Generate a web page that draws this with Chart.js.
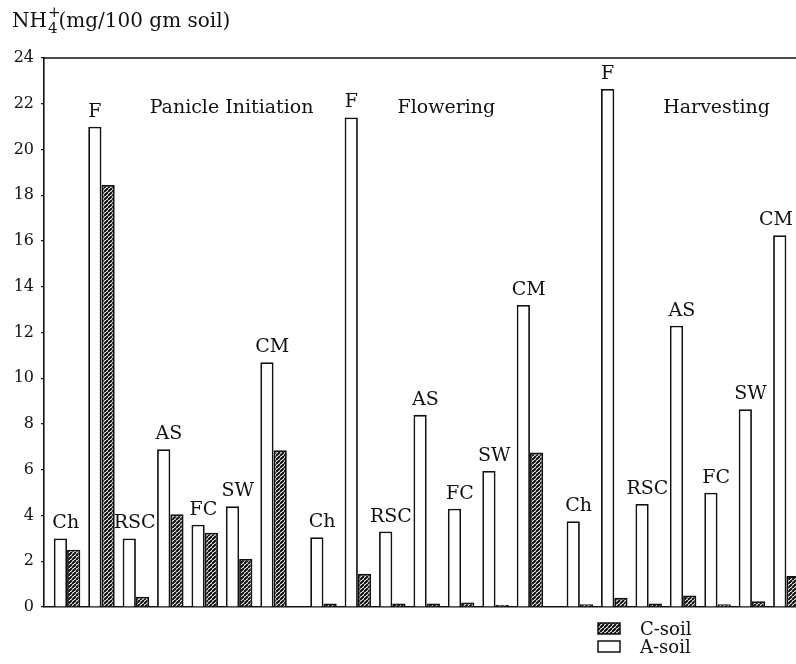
<!DOCTYPE html>
<html>
<head>
<meta charset="utf-8">
<script src="https://cdn.jsdelivr.net/npm/chart.js@4.4.1/dist/chart.umd.min.js"></script>
<style>
  html, body { margin: 0; padding: 0; background: #fff; }
  #wrap { width: 796px; height: 664px; position: relative; }
</style>
</head>
<body>
<div id="wrap"><canvas id="c" width="796" height="664"></canvas></div>
<script>
// Growth stages and soil amendments
const stages = ['Panicle Initiation', 'Flowering', 'Harvesting'];
const treatments = ['Ch', 'F', 'RSC', 'AS', 'FC', 'SW', 'CM'];

// NH4+ (mg/100 gm soil), one array per stage, ordered as treatments
const aSoilPanicle   = [3.0, 21.0, 3.0, 6.9, 3.6, 4.4, 10.7];
const cSoilPanicle   = [2.5, 18.45, 0.45, 4.05, 3.25, 2.1, 6.85];
const aSoilFlowering = [3.05, 21.4, 3.3, 8.4, 4.3, 5.95, 13.2];
const cSoilFlowering = [0.15, 1.45, 0.15, 0.15, 0.2, 0.1, 6.75];
const aSoilHarvest   = [3.75, 22.65, 4.5, 12.3, 5.0, 8.65, 16.25];
const cSoilHarvest   = [0.12, 0.4, 0.15, 0.5, 0.12, 0.25, 1.35];

const yTicks = [0, 2, 4, 6, 8, 10, 12, 14, 16, 18, 20, 22, 24];

const aSoil = [aSoilPanicle, aSoilFlowering, aSoilHarvest];
const cSoil = [cSoilPanicle, cSoilFlowering, cSoilHarvest];

// each stage occupies a block of slots on the x axis, with a small gap between blocks
const STAGE_STRIDE = 7.45;
const slotOf = (s, i) => s * STAGE_STRIDE + i;

function toPoints(series) {
  const pts = [];
  series.forEach((vals, s) => vals.forEach((v, i) => pts.push({ x: slotOf(s, i), y: v })));
  return pts;
}

const SERIF = '"DejaVu Serif", "Liberation Serif", serif';

// diagonal hatching for C-soil
function hatchPattern() {
  const size = 4;
  const cv = document.createElement('canvas');
  cv.width = size; cv.height = size;
  const g = cv.getContext('2d');
  g.fillStyle = '#fff';
  g.fillRect(0, 0, size, size);
  g.strokeStyle = '#111';
  g.lineWidth = 2.1;
  g.beginPath();
  for (let k = -size; k <= size * 2; k += size) {
    g.moveTo(k, size);
    g.lineTo(k + size, 0);
  }
  g.stroke();
  return g.createPattern(cv, 'repeat');
}
const hatch = hatchPattern();

// treatment names above A-soil bars, stage headings, axis title and legend
const annotations = {
  id: 'annotations',
  afterDatasetsDraw(chart) {
    const ctx = chart.ctx;
    const x = chart.scales.x, y = chart.scales.y;
    const metaA = chart.getDatasetMeta(0);
    ctx.save();
    ctx.fillStyle = '#111';
    ctx.textAlign = 'center';
    ctx.textBaseline = 'alphabetic';
    ctx.font = '19px ' + SERIF;
    let k = 0;
    aSoil.forEach((vals, s) => vals.forEach((v, i) => {
      const bar = metaA.data[k++];
      const name = treatments[i];
      // single-letter labels sit over the A bar, longer ones lean toward the pair
      let cx = name.length === 1 ? bar.x : bar.x + bar.width * 0.4;
      const half = ctx.measureText(name).width / 2;
      cx = Math.min(cx, chart.width - 3 - half);
      ctx.fillText(name, cx, y.getPixelForValue(v) - 10);
    }));

    ctx.font = '19px ' + SERIF;
    ctx.textAlign = 'left';
    const headY = y.getPixelForValue(21.6);
    ctx.fillText(stages[0], x.getPixelForValue(slotOf(0, 2.4)), headY);
    ctx.fillText(stages[1], x.getPixelForValue(slotOf(1, 2.15)), headY);
    ctx.fillText(stages[2], x.getPixelForValue(slotOf(2, 2.42)), headY);

    // y axis title: NH4+(mg/100 gm soil)
    ctx.font = '20px ' + SERIF;
    const tx = 12, ty = 27;
    ctx.fillText('NH', tx, ty);
    const w = ctx.measureText('NH').width;
    ctx.font = '15px ' + SERIF;
    ctx.fillText('4', tx + w + 1, ty + 6);
    ctx.fillText('+', tx + w + 1, ty - 10);
    const w2 = ctx.measureText('4').width;
    ctx.font = '20px ' + SERIF;
    ctx.fillText('(mg/100 gm soil)', tx + w + w2 + 2, ty);

    // legend
    const lx = 598, ly = 623;
    const items = [chart.data.datasets[1], chart.data.datasets[0]];
    ctx.font = '18px ' + SERIF;
    ctx.textBaseline = 'middle';
    items.forEach((ds, j) => {
      const by = ly + j * 18;
      ctx.fillStyle = ds.backgroundColor;
      ctx.fillRect(lx, by, 22, 11);
      ctx.lineWidth = 1.5;
      ctx.strokeStyle = '#111';
      ctx.strokeRect(lx, by, 22, 11);
      ctx.fillStyle = '#111';
      ctx.fillText(ds.label, lx + 42, by + 7);
    });
    ctx.restore();
  }
};

// line across the top of the plot at the 24 level
const topRule = {
  id: 'topRule',
  beforeDatasetsDraw(chart) {
    const ctx = chart.ctx;
    const a = chart.chartArea;
    ctx.save();
    ctx.strokeStyle = '#111';
    ctx.lineWidth = 1.5;
    ctx.beginPath();
    ctx.moveTo(a.left, a.top);
    ctx.lineTo(chart.width, a.top);
    ctx.stroke();
    ctx.restore();
  }
};

new Chart(document.getElementById('c'), {
  type: 'bar',
  data: {
    datasets: [
      {
        label: 'A-soil',
        data: toPoints(aSoil),
        backgroundColor: '#fff',
        borderColor: '#111',
        borderWidth: 1.8,
        borderSkipped: 'bottom'
      },
      {
        label: 'C-soil',
        data: toPoints(cSoil),
        backgroundColor: hatch,
        borderColor: '#111',
        borderWidth: 1.8,
        borderSkipped: 'bottom'
      }
    ]
  },
  options: {
    responsive: false,
    animation: false,
    events: [],
    layout: { padding: { top: 58, bottom: 57, left: 0, right: 0 } },
    datasets: { bar: { categoryPercentage: 0.77, barPercentage: 1.0 } },
    plugins: { legend: { display: false }, tooltip: { enabled: false } },
    scales: {
      x: {
        type: 'linear',
        min: -0.67,
        max: 21.18,
        offset: false,
        grid: { display: false },
        ticks: { display: false },
        border: { display: true, color: '#111', width: 1.6 },
        afterFit(s) { s.height = 0; }
      },
      y: {
        min: 0,
        max: 24,
        afterBuildTicks(s) { s.ticks = yTicks.map(v => ({ value: v })); },
        grid: { display: true, drawOnChartArea: false, drawTicks: true, tickLength: 3, color: '#111', lineWidth: 1.2 },
        border: { display: true, color: '#111', width: 1.6 },
        ticks: {
          color: '#111',
          padding: 7,
          font: { family: SERIF, size: 16 }
        },
        afterFit(s) { s.width = 44; }
      }
    }
  },
  plugins: [topRule, annotations]
});
</script>
</body>
</html>
